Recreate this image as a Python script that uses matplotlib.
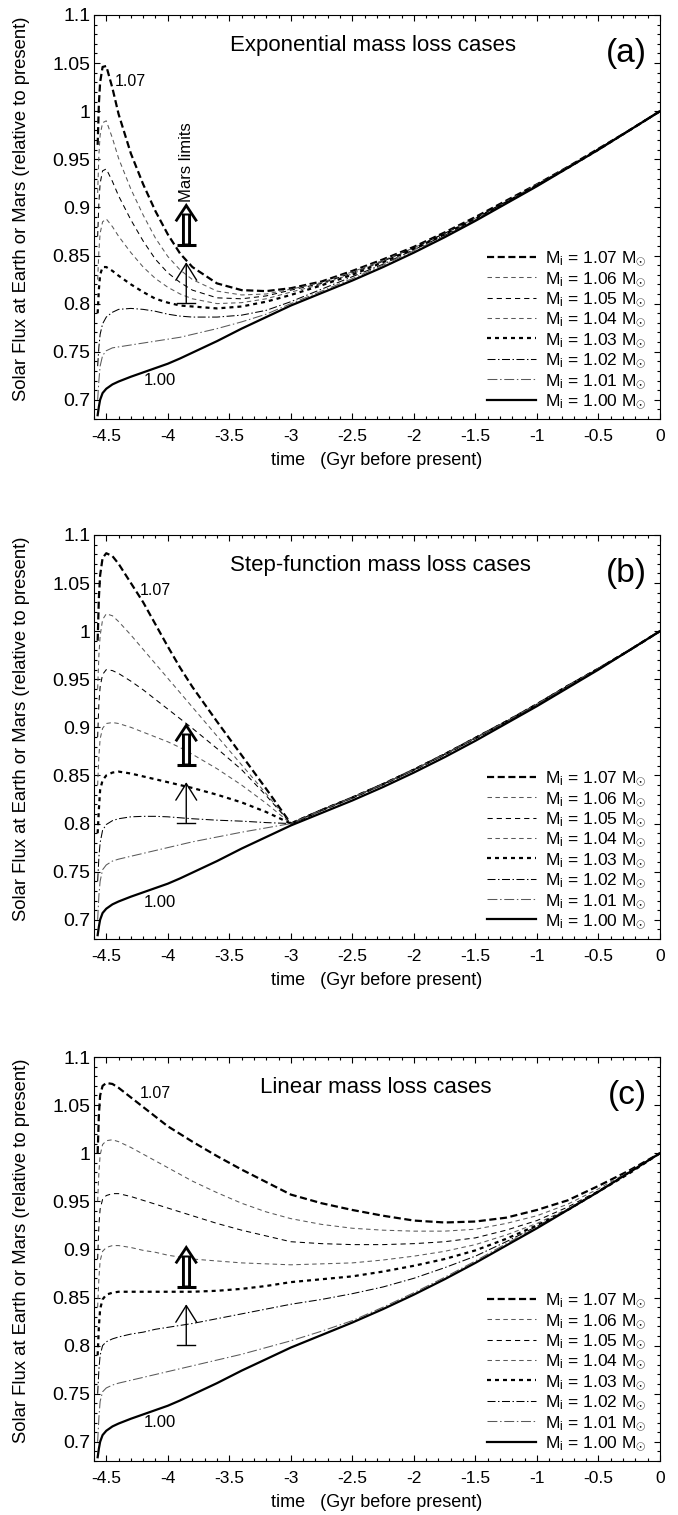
import matplotlib
matplotlib.use("Agg")
import matplotlib.pyplot as plt
import matplotlib.ticker as ticker

plt.rcParams["font.family"] = ["Liberation Sans", "DejaVu Sans"]
plt.rcParams["mathtext.fontset"] = "custom"
plt.rcParams["mathtext.rm"] = "Liberation Sans"
plt.rcParams["mathtext.it"] = "Liberation Sans:italic"
plt.rcParams["mathtext.bf"] = "Liberation Sans:bold"

# ── Data ─────────────────────────────────────────────────────────────────────
t_gyr = [-4.57, -4.56, -4.55, -4.53, -4.50, -4.45, -4.40, -4.30, -4.20, -4.10,
         -4.00, -3.90, -3.80, -3.60, -3.40, -3.20, -3.00, -2.75, -2.50, -2.25,
         -2.00, -1.75, -1.50, -1.25, -1.00, -0.75, -0.50, -0.25, 0.00]

# standard 1.00 Msun case, same in every panel
flux_100 = [0.684, 0.693, 0.700, 0.707, 0.7115, 0.716, 0.719, 0.724, 0.7285, 0.733,
            0.7375, 0.743, 0.749, 0.761, 0.774, 0.786, 0.798, 0.811, 0.824, 0.838,
            0.853, 0.869, 0.886, 0.904, 0.922, 0.941, 0.960, 0.980, 1.000]

# (a) exponential mass loss
exp_107 = [0.965, 1.008, 1.030, 1.046, 1.047, 1.024, 0.997, 0.956, 0.924, 0.896, 0.872, 0.852, 0.838, 0.821, 0.814, 0.813, 0.816,
           0.823, 0.834, 0.846, 0.859, 0.874, 0.890, 0.907, 0.924, 0.942, 0.961, 0.980, 1.000]
exp_106 = [0.915, 0.955, 0.975, 0.988, 0.990, 0.972, 0.951, 0.919, 0.892, 0.868, 0.849, 0.835, 0.825, 0.813, 0.809, 0.810, 0.815,
           0.822, 0.833, 0.845, 0.858, 0.873, 0.889, 0.906, 0.924, 0.942, 0.961, 0.980, 1.000]
exp_105 = [0.870, 0.905, 0.925, 0.938, 0.940, 0.927, 0.912, 0.887, 0.865, 0.846, 0.832, 0.822, 0.814, 0.806, 0.805, 0.808, 0.814,
           0.821, 0.832, 0.844, 0.858, 0.873, 0.889, 0.906, 0.923, 0.942, 0.961, 0.980, 1.000]
exp_104 = [0.825, 0.855, 0.873, 0.885, 0.888, 0.880, 0.870, 0.853, 0.838, 0.826, 0.817, 0.810, 0.805, 0.800, 0.801, 0.805, 0.812,
           0.820, 0.831, 0.844, 0.857, 0.872, 0.888, 0.905, 0.923, 0.942, 0.960, 0.980, 1.000]
exp_103 = [0.790, 0.815, 0.830, 0.838, 0.838, 0.834, 0.829, 0.820, 0.812, 0.805, 0.801, 0.798, 0.797, 0.795, 0.797, 0.802, 0.809,
           0.819, 0.830, 0.843, 0.857, 0.872, 0.888, 0.905, 0.923, 0.941, 0.960, 0.980, 1.000]
exp_102 = [0.735, 0.755, 0.768, 0.779, 0.786, 0.791, 0.794, 0.795, 0.794, 0.792, 0.789, 0.787, 0.786, 0.786, 0.788, 0.793, 0.802,
           0.815, 0.828, 0.841, 0.856, 0.871, 0.887, 0.905, 0.923, 0.941, 0.960, 0.980, 1.000]
exp_101 = [0.700, 0.720, 0.735, 0.746, 0.751, 0.754, 0.755, 0.757, 0.759, 0.761, 0.763, 0.765, 0.768, 0.774, 0.781, 0.789, 0.800,
           0.813, 0.826, 0.840, 0.855, 0.870, 0.887, 0.904, 0.922, 0.941, 0.960, 0.980, 1.000]

# (b) step-function mass loss: all cases share one track after -3 Gyr
step_tail = [0.814, 0.827, 0.841, 0.856, 0.872, 0.889, 0.906, 0.924, 0.943, 0.961, 0.980, 1.000]
step_107 = [0.990, 1.035, 1.058, 1.076, 1.081, 1.078, 1.070, 1.050, 1.030, 1.007, 0.984, 0.962, 0.942, 0.906, 0.871, 0.836, 0.800] + step_tail
step_106 = [0.940, 0.975, 0.995, 1.012, 1.018, 1.016, 1.010, 0.996, 0.981, 0.966, 0.951, 0.936, 0.921, 0.891, 0.861, 0.831, 0.800] + step_tail
step_105 = [0.890, 0.925, 0.942, 0.955, 0.960, 0.959, 0.956, 0.948, 0.939, 0.929, 0.919, 0.909, 0.899, 0.878, 0.856, 0.829, 0.800] + step_tail
step_104 = [0.840, 0.870, 0.888, 0.899, 0.904, 0.905, 0.904, 0.900, 0.895, 0.890, 0.885, 0.879, 0.872, 0.857, 0.840, 0.821, 0.800] + step_tail
step_103 = [0.790, 0.815, 0.835, 0.845, 0.850, 0.853, 0.854, 0.852, 0.849, 0.846, 0.843, 0.840, 0.837, 0.830, 0.822, 0.812, 0.800] + step_tail
step_102 = [0.740, 0.765, 0.780, 0.793, 0.799, 0.803, 0.805, 0.807, 0.8075, 0.8075, 0.807, 0.806, 0.805, 0.8035, 0.8025, 0.801, 0.800] + step_tail
step_101 = [0.700, 0.725, 0.740, 0.752, 0.757, 0.761, 0.763, 0.766, 0.769, 0.772, 0.775, 0.778, 0.781, 0.786, 0.791, 0.7955, 0.800] + step_tail

# (c) linear mass loss
lin_107 = [1.000, 1.040, 1.060, 1.070, 1.073, 1.072, 1.068, 1.058, 1.048, 1.038, 1.028, 1.020, 1.012, 0.997, 0.983, 0.970, 0.957,
           0.948, 0.941, 0.935, 0.930, 0.928, 0.929, 0.933, 0.941, 0.951, 0.966, 0.982, 1.000]
lin_106 = [0.950, 0.980, 0.998, 1.009, 1.013, 1.014, 1.012, 1.006, 0.999, 0.992, 0.985, 0.978, 0.971, 0.959, 0.948, 0.939, 0.932,
           0.926, 0.922, 0.920, 0.919, 0.919, 0.921, 0.927, 0.935, 0.947, 0.963, 0.981, 1.000]
lin_105 = [0.890, 0.925, 0.942, 0.952, 0.956, 0.958, 0.958, 0.955, 0.951, 0.947, 0.943, 0.939, 0.935, 0.927, 0.920, 0.914, 0.908,
           0.906, 0.905, 0.905, 0.906, 0.908, 0.912, 0.920, 0.930, 0.944, 0.961, 0.980, 1.000]
lin_104 = [0.840, 0.870, 0.888, 0.898, 0.902, 0.904, 0.904, 0.902, 0.899, 0.897, 0.894, 0.892, 0.890, 0.888, 0.886, 0.885, 0.884,
           0.885, 0.886, 0.889, 0.893, 0.898, 0.905, 0.915, 0.927, 0.942, 0.960, 0.980, 1.000]
lin_103 = [0.790, 0.820, 0.838, 0.848, 0.853, 0.855, 0.856, 0.856, 0.856, 0.856, 0.856, 0.856, 0.856, 0.857, 0.859, 0.862, 0.866,
           0.869, 0.872, 0.877, 0.883, 0.890, 0.899, 0.911, 0.925, 0.941, 0.960, 0.979, 1.000]
lin_102 = [0.750, 0.775, 0.790, 0.800, 0.804, 0.807, 0.809, 0.812, 0.814, 0.817, 0.819, 0.821, 0.823, 0.828, 0.833, 0.838, 0.843,
           0.848, 0.854, 0.861, 0.870, 0.881, 0.893, 0.908, 0.924, 0.941, 0.960, 0.980, 1.000]
lin_101 = [0.700, 0.725, 0.742, 0.752, 0.756, 0.759, 0.761, 0.764, 0.767, 0.770, 0.773, 0.776, 0.779, 0.785, 0.791, 0.798, 0.805,
           0.815, 0.826, 0.840, 0.855, 0.871, 0.888, 0.906, 0.923, 0.942, 0.960, 0.980, 1.000]

masses = ["1.07", "1.06", "1.05", "1.04", "1.03", "1.02", "1.01", "1.00"]
panels = [
    ("Exponential mass loss cases", "(a)", [exp_107, exp_106, exp_105, exp_104, exp_103, exp_102, exp_101, flux_100]),
    ("Step-function mass loss cases", "(b)", [step_107, step_106, step_105, step_104, step_103, step_102, step_101, flux_100]),
    ("Linear mass loss cases", "(c)", [lin_107, lin_106, lin_105, lin_104, lin_103, lin_102, lin_101, flux_100]),
]

# ── Styles ───────────────────────────────────────────────────────────────────
STYLES = [
    dict(color="black", lw=1.6, ls=(0, (3.2, 1.6))),
    dict(color="0.35", lw=0.75, ls=(0, (4.3, 3.3))),
    dict(color="black", lw=0.75, ls=(0, (5.0, 3.8))),
    dict(color="0.35", lw=0.75, ls=(0, (4.3, 3.3))),
    dict(color="black", lw=1.6, ls=(0, (1.8, 1.8))),
    dict(color="black", lw=0.75, ls=(0, (7.7, 2.4, 1.4, 2.4))),
    dict(color="0.35", lw=0.75, ls=(0, (9.5, 2.6, 1.4, 2.6))),
    dict(color="black", lw=1.6, ls="-"),
]

# panel layout in figure fraction
LEFT, WIDTH, HEIGHT = 0.1386, 0.8348, 0.2667
BOTTOMS = [0.7234, 0.3802, 0.0356]
TITLE_X = [0.240, 0.240, 0.293]
LABEL107 = [(-4.43, 1.031), (-4.23, 1.042), (-4.23, 1.062)]
LABEL100 = [(-4.064, 0.720), (-4.064, 0.718), (-4.064, 0.720)]

ARROW_X = -3.85


def mars_arrows(ax):
    # thin arrow with bar
    ax.plot([ARROW_X - 0.072, ARROW_X + 0.072], [0.801, 0.801], color="black", lw=1.0)
    ax.annotate("", xy=(ARROW_X, 0.843), xytext=(ARROW_X, 0.801),
                arrowprops=dict(arrowstyle="->,head_length=1.2,head_width=0.75",
                                lw=1.0, color="black", shrinkA=0, shrinkB=0))
    # thick double arrow with bar
    ax.plot([ARROW_X - 0.077, ARROW_X + 0.077], [0.861, 0.861], color="black",
            lw=2.2, solid_capstyle="butt")
    ax.plot([ARROW_X, ARROW_X], [0.861, 0.894], color="black", lw=6.5,
            solid_capstyle="butt")
    ax.plot([ARROW_X, ARROW_X], [0.8625, 0.8925], color="white", lw=2.3,
            solid_capstyle="butt")
    ax.plot([ARROW_X - 0.085, ARROW_X, ARROW_X + 0.085], [0.8855, 0.902, 0.8855],
            color="black", lw=2.0, solid_joinstyle="miter", solid_capstyle="butt")


fig = plt.figure(figsize=(6.78, 15.15), dpi=100)

for i, (title, tag, curves) in enumerate(panels):
    ax = fig.add_axes([LEFT, BOTTOMS[i], WIDTH, HEIGHT])
    for m, y, st in zip(masses, curves, STYLES):
        ax.plot(t_gyr, y, color=st["color"], lw=st["lw"], linestyle=st["ls"],
                label=f"M$_\\mathrm{{i}}$ = {m} M$_{{\\odot}}$")

    mars_arrows(ax)
    if i == 0:
        ax.text(ARROW_X, 0.906, "Mars limits", rotation=90, ha="center",
                va="bottom", fontsize=12)

    ax.text(*LABEL107[i], "1.07", ha="left", va="center", fontsize=11.5)
    ax.text(*LABEL100[i], "1.00", ha="center", va="center", fontsize=12)
    ax.text(TITLE_X[i], 0.911, title, transform=ax.transAxes, ha="left",
            va="baseline", fontsize=16)
    ax.text(0.977, 0.884, tag, transform=ax.transAxes, ha="right",
            va="baseline", fontsize=24)

    ax.set_xlim(-4.6, 0)
    ax.set_ylim(0.68, 1.1)
    ax.xaxis.set_major_locator(ticker.MultipleLocator(0.5))
    ax.xaxis.set_minor_locator(ticker.MultipleLocator(0.1))
    ax.yaxis.set_major_locator(ticker.MultipleLocator(0.05))
    ax.yaxis.set_minor_locator(ticker.MultipleLocator(0.01))
    ax.xaxis.set_major_formatter(ticker.FormatStrFormatter("%g"))
    ax.yaxis.set_major_formatter(ticker.FormatStrFormatter("%g"))
    ax.tick_params(which="both", direction="in", top=True, right=True, width=0.8)
    ax.tick_params(which="major", length=4.5)
    ax.tick_params(which="minor", length=2.2)
    ax.tick_params(axis="x", which="major", pad=7, labelsize=12.5)
    ax.tick_params(axis="y", which="major", pad=2.5, labelsize=14)
    for sp in ax.spines.values():
        sp.set_linewidth(0.8)

    ax.set_xlabel("time   (Gyr before present)", fontsize=13, labelpad=6)
    ax.set_ylabel("Solar Flux at Earth or Mars (relative to present)", fontsize=13.3)
    ax.yaxis.set_label_coords(-0.113, 0.52)

    ax.legend(loc="lower right", bbox_to_anchor=(0.977, 0.02), frameon=False,
              fontsize=12.5, handlelength=2.8, handletextpad=0.55,
              labelspacing=0.1, borderpad=0, borderaxespad=0)

fig.savefig("out.png", dpi=100)
